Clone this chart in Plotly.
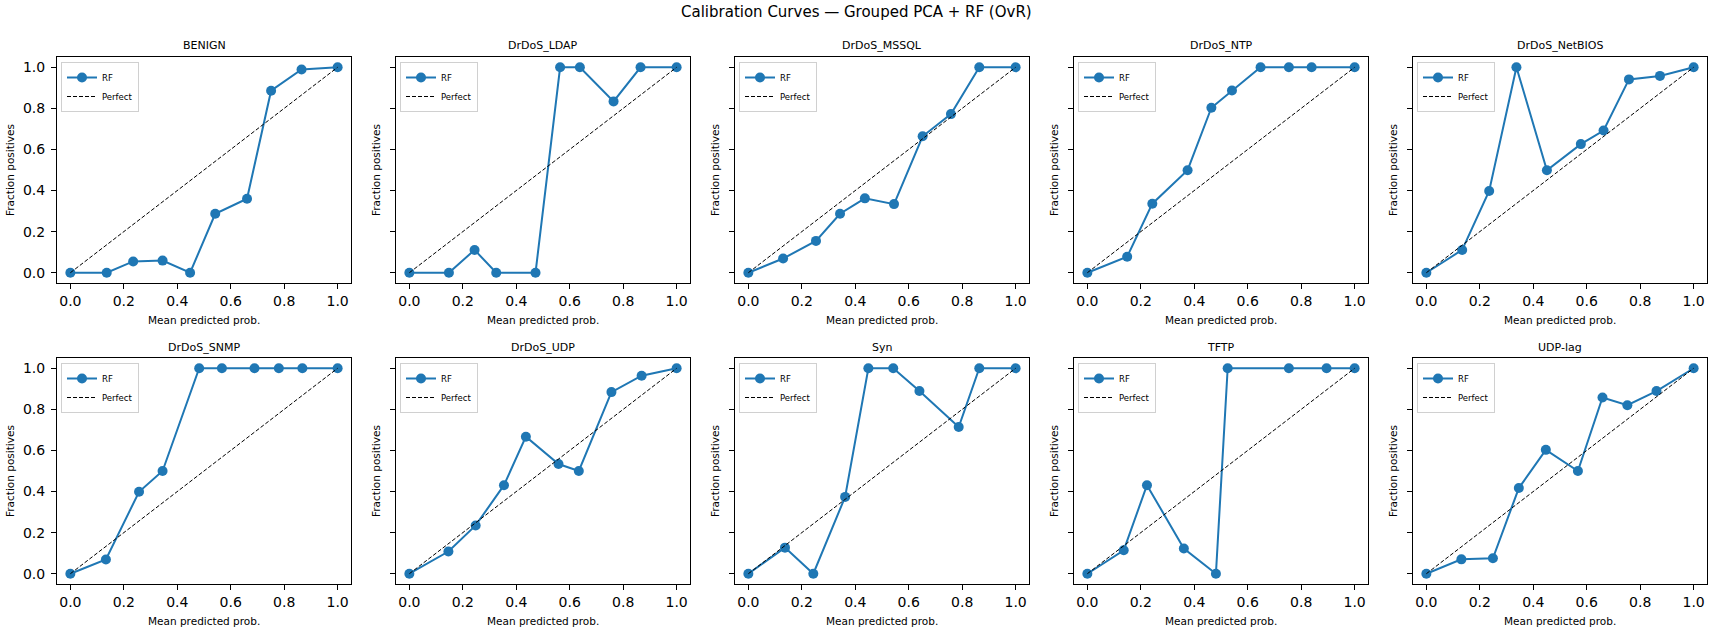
import plotly.graph_objects as go

# calibration bins (mean predicted prob., fraction positives)
CLASSES = ["BENIGN", "DrDoS_LDAP", "DrDoS_MSSQL", "DrDoS_NTP", "DrDoS_NetBIOS",
           "DrDoS_SNMP", "DrDoS_UDP", "Syn", "TFTP", "UDP-lag"]

benign_pred = [0.0, 0.136, 0.235, 0.345, 0.448, 0.542, 0.661, 0.751, 0.865, 1.0]
benign_frac = [0.0, 0.0, 0.055, 0.059, 0.0, 0.287, 0.360, 0.886, 0.989, 1.0]

ldap_pred = [0.0, 0.148, 0.244, 0.325, 0.472, 0.564, 0.638, 0.764, 0.865, 1.0]
ldap_frac = [0.0, 0.0, 0.111, 0.0, 0.0, 1.0, 1.0, 0.834, 1.0, 1.0]

mssql_pred = [0.0, 0.130, 0.253, 0.343, 0.436, 0.545, 0.652, 0.758, 0.864, 1.0]
mssql_frac = [0.0, 0.069, 0.155, 0.287, 0.362, 0.334, 0.664, 0.772, 1.0, 1.0]

ntp_pred = [0.0, 0.149, 0.243, 0.375, 0.464, 0.541, 0.648, 0.754, 0.839, 1.0]
ntp_frac = [0.0, 0.078, 0.336, 0.499, 0.803, 0.887, 1.0, 1.0, 1.0, 1.0]

netbios_pred = [0.0, 0.134, 0.235, 0.337, 0.451, 0.578, 0.663, 0.758, 0.874, 1.0]
netbios_frac = [0.0, 0.111, 0.398, 1.0, 0.499, 0.626, 0.692, 0.941, 0.958, 1.0]

snmp_pred = [0.0, 0.133, 0.257, 0.345, 0.482, 0.567, 0.689, 0.780, 0.868, 1.0]
snmp_frac = [0.0, 0.069, 0.399, 0.5, 1.0, 1.0, 1.0, 1.0, 1.0, 1.0]

udp_pred = [0.0, 0.146, 0.248, 0.354, 0.436, 0.558, 0.634, 0.756, 0.869, 1.0]
udp_frac = [0.0, 0.108, 0.235, 0.431, 0.667, 0.534, 0.5, 0.884, 0.964, 1.0]

syn_pred = [0.0, 0.137, 0.243, 0.362, 0.449, 0.542, 0.640, 0.787, 0.864, 1.0]
syn_frac = [0.0, 0.127, 0.0, 0.374, 1.0, 1.0, 0.889, 0.714, 1.0, 1.0]

tftp_pred = [0.0, 0.136, 0.223, 0.361, 0.481, 0.525, 0.754, 0.895, 1.0]
tftp_frac = [0.0, 0.114, 0.431, 0.123, 0.0, 1.0, 1.0, 1.0, 1.0]

udplag_pred = [0.0, 0.131, 0.249, 0.346, 0.447, 0.567, 0.659, 0.752, 0.861, 1.0]
udplag_frac = [0.0, 0.070, 0.075, 0.417, 0.603, 0.5, 0.858, 0.820, 0.889, 1.0]

PERFECT = [0, 1]
TICKS = [0.0, 0.2, 0.4, 0.6, 0.8, 1.0]
TICK_LABELS = ["0.0", "0.2", "0.4", "0.6", "0.8", "1.0"]

CURVES = [(benign_pred, benign_frac), (ldap_pred, ldap_frac), (mssql_pred, mssql_frac),
          (ntp_pred, ntp_frac), (netbios_pred, netbios_frac), (snmp_pred, snmp_frac),
          (udp_pred, udp_frac), (syn_pred, syn_frac), (tftp_pred, tftp_frac),
          (udplag_pred, udplag_frac)]

W, H = 1713, 632
BOX_W, BOX_H = 294, 226
LEFT0, PITCH = 57, 339
ROW_TOP = [57, 358]
BLUE = "#1f77b4"
FONT = "DejaVu Sans"


def fx(px):
    return px / W


def fy(py):
    return 1 - py / H


fig = go.Figure()
layout = {}
annotations = []

for k, name in enumerate(CLASSES):
    row, col = divmod(k, 5)
    left = LEFT0 + PITCH * col
    top = ROW_TOP[row]
    bottom = top + BOX_H
    sfx = "" if k == 0 else str(k + 1)
    lg = "legend" + sfx
    px_, py_ = CURVES[k]

    fig.add_trace(go.Scatter(
        x=px_, y=py_, mode="lines+markers", name="RF",
        line=dict(color=BLUE, width=2),
        marker=dict(color=BLUE, size=10),
        xaxis="x" + sfx, yaxis="y" + sfx, legend=lg,
    ))
    fig.add_trace(go.Scatter(
        x=PERFECT, y=PERFECT, mode="lines", name="Perfect",
        line=dict(color="black", width=1, dash="4px,2px"),
        xaxis="x" + sfx, yaxis="y" + sfx, legend=lg,
    ))

    common = dict(range=[-0.05, 1.05], tickvals=TICKS, ticktext=TICK_LABELS,
                  ticks="outside", ticklen=5, tickwidth=1, tickcolor="black",
                  showline=True, linecolor="black", linewidth=1, mirror=True,
                  showgrid=False, zeroline=False,
                  tickfont=dict(family=FONT, size=14, color="black"))
    layout["xaxis" + sfx] = dict(common, domain=[fx(left), fx(left + BOX_W)],
                                 anchor="y" + sfx)
    layout["yaxis" + sfx] = dict(common, domain=[fy(bottom), fy(top)],
                                 anchor="x" + sfx, showticklabels=(col == 0),
                                 ticklabelstandoff=3)
    layout[lg] = dict(x=fx(left + 4), y=fy(top + 5), xanchor="left", yanchor="top",
                      bgcolor="white", bordercolor="#d0d0d0", borderwidth=1,
                      font=dict(family=FONT, size=8.5, color="black"),
                      itemwidth=30, tracegroupgap=0)

    # subplot title and axis titles
    annotations.append(dict(text=name, x=fx(left + BOX_W / 2), y=fy(top - 11),
                            xref="paper", yref="paper", showarrow=False,
                            xanchor="center", yanchor="middle",
                            font=dict(family=FONT, size=11, color="black")))
    annotations.append(dict(text="Mean predicted prob.", x=fx(left + BOX_W / 2),
                            y=fy(bottom + 37), xref="paper", yref="paper",
                            showarrow=False, xanchor="center", yanchor="middle",
                            font=dict(family=FONT, size=10.5, color="black")))
    ytx = 10 if col == 0 else left - 20
    annotations.append(dict(text="Fraction positives", x=fx(ytx), y=fy(top + BOX_H / 2),
                            xref="paper", yref="paper", showarrow=False, textangle=-90,
                            xanchor="center", yanchor="middle",
                            font=dict(family=FONT, size=10.5, color="black")))

annotations.append(dict(text="Calibration Curves — Grouped PCA + RF (OvR)", x=fx(856.5),
                        y=fy(12), xref="paper", yref="paper", showarrow=False,
                        xanchor="center", yanchor="middle",
                        font=dict(family=FONT, size=15, color="black")))

fig.update_layout(width=W, height=H, margin=dict(l=0, r=0, t=0, b=0),
                  paper_bgcolor="white", plot_bgcolor="white",
                  annotations=annotations, **layout)

# drop the default body margin so the figure fills the window like the original image
fig.write_html("out.html", config={"displayModeBar": False},
               post_script="document.body.style.margin = '0';")
